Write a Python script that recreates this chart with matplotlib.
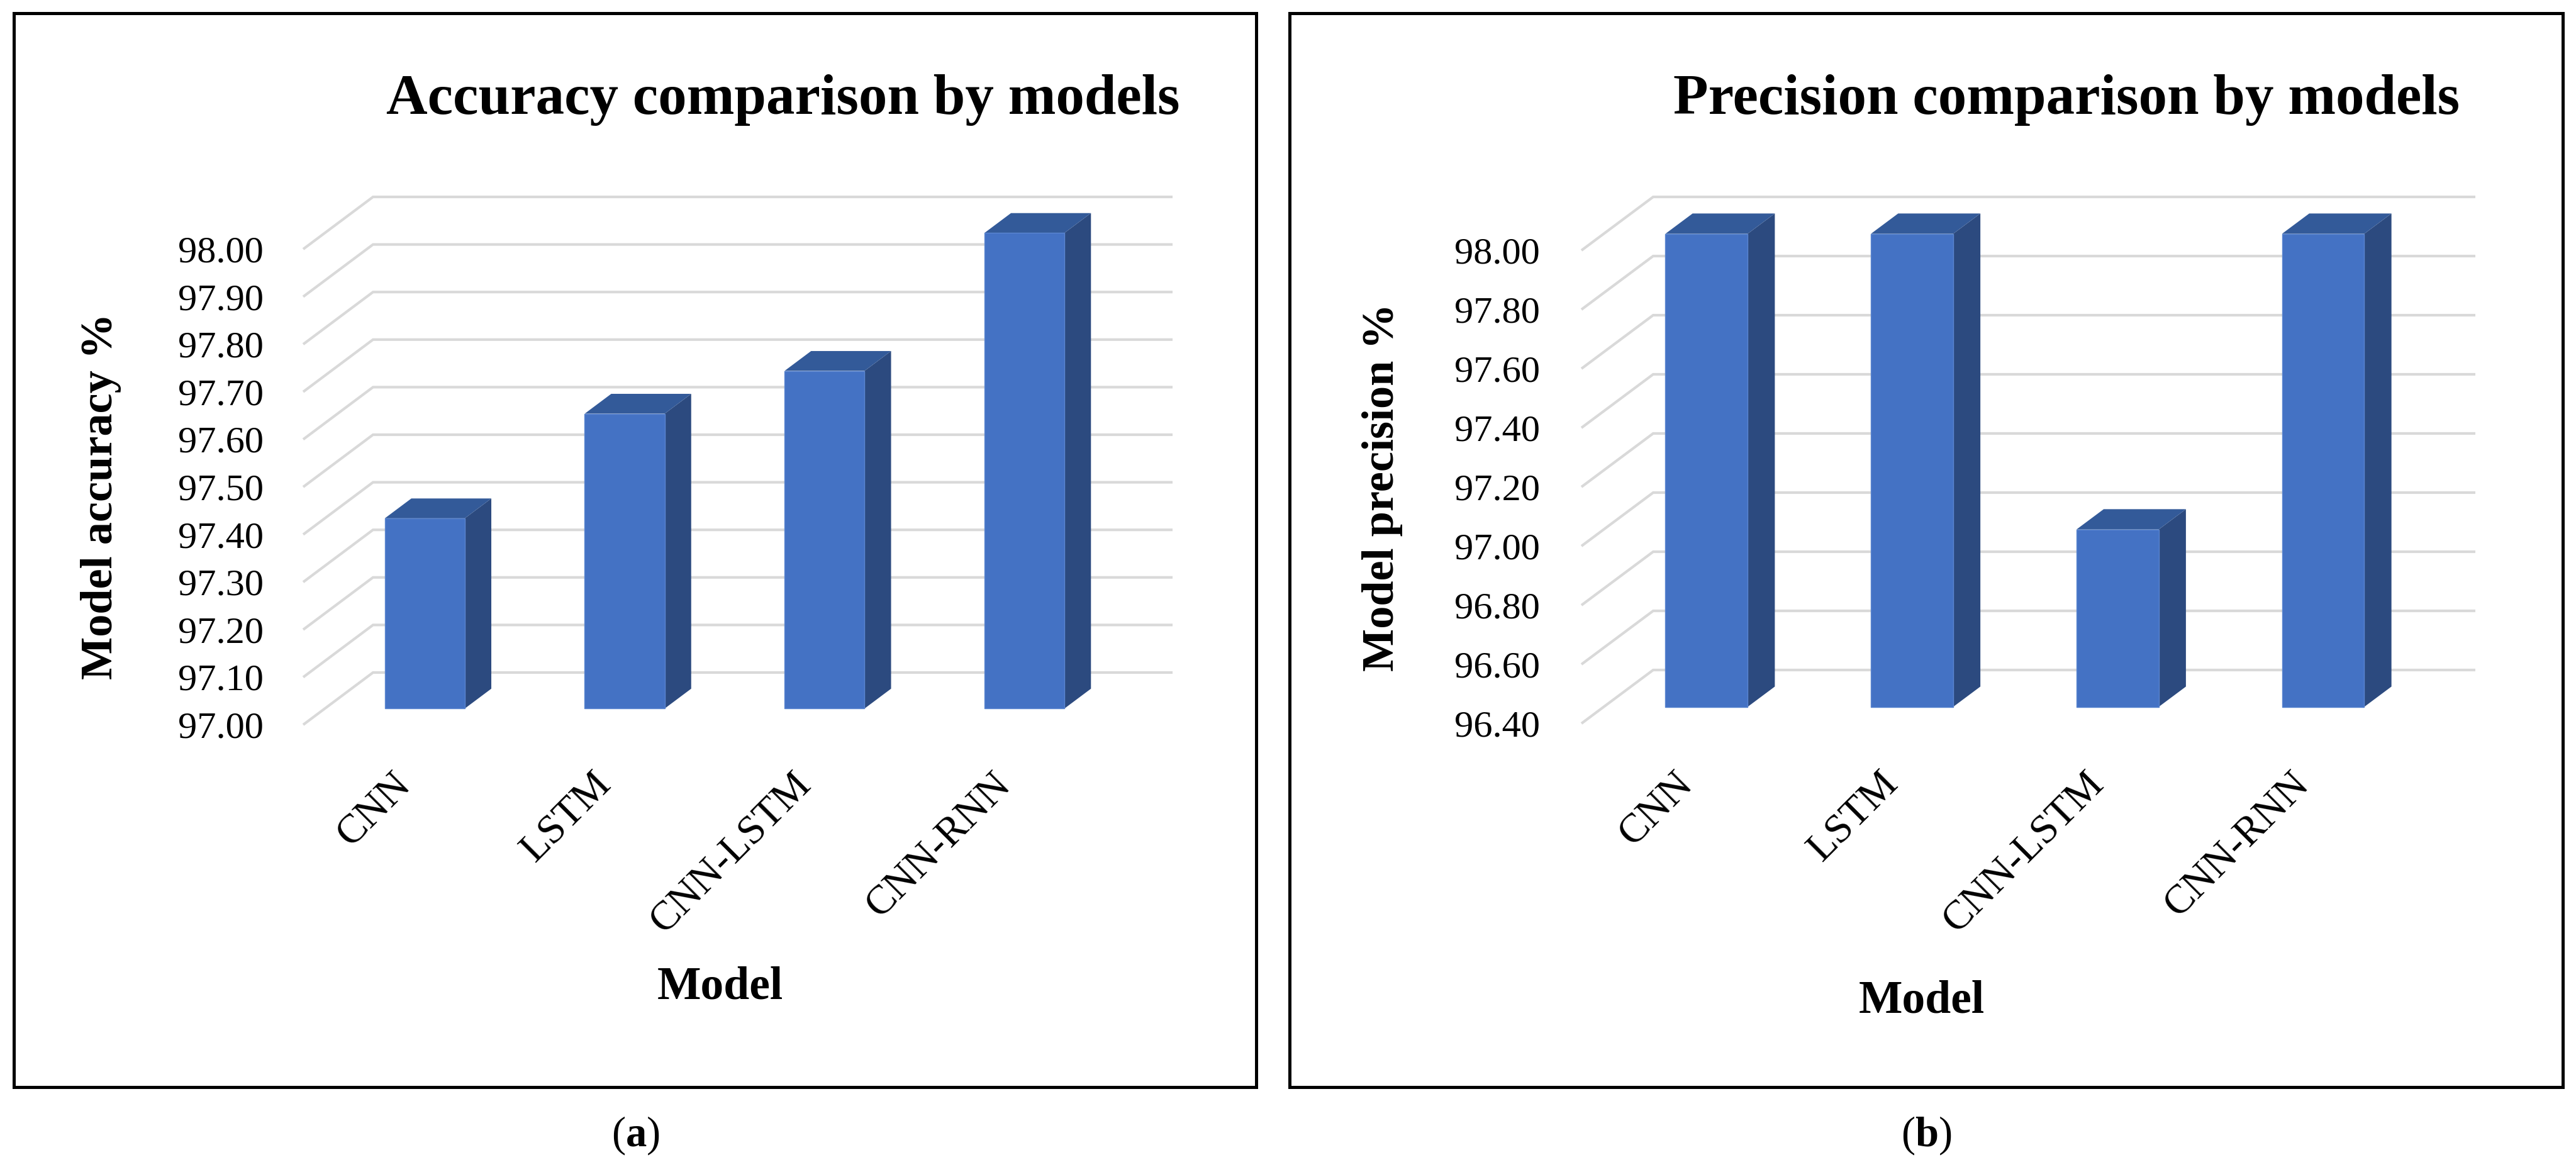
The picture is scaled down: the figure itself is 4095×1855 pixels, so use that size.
import matplotlib
matplotlib.use("Agg")
import matplotlib.pyplot as plt
from matplotlib.patches import Polygon, Rectangle
import numpy as np

plt.rcParams['font.family'] = ['Liberation Serif', 'DejaVu Serif']
plt.rcParams['mathtext.fontset'] = 'custom'
plt.rcParams['mathtext.rm'] = 'Liberation Serif'
plt.rcParams['mathtext.bf'] = 'Liberation Serif:bold'

# ---------------- data ----------------
models = ["CNN", "LSTM", "CNN-LSTM", "CNN-RNN"]
accuracy = [97.40, 97.62, 97.71, 98.00]
precision = [98.00, 98.00, 97.00, 98.00]
acc_ticks = [97.00, 97.10, 97.20, 97.30, 97.40, 97.50, 97.60, 97.70, 97.80, 97.90, 98.00]
prec_ticks = [96.40, 96.60, 96.80, 97.00, 97.20, 97.40, 97.60, 97.80, 98.00]

W, H = 4095, 1855
fig = plt.figure(figsize=(W / 100, H / 100), dpi=100)

FRONT = '#4472C4'
SIDE = '#2C4A7F'
TOP = '#335A99'
GRID = '#D9D9D9'
PT = 0.72  # points per pixel at dpi 100


def fx(x):
    return x / W


def fy(y):
    return 1 - y / H


def panel(vals, ticks, x0, x1, ytop, ybot, dxp, dyp, title, title_x, ylabel,
          ylab_xy, xlab_xy, pad_y, pad_x, tick_dx, sub, sub_xy):
    vmin, vmax = ticks[0], ticks[-1]
    ax = fig.add_axes([fx(x0), fy(ybot), (x1 - x0) / W, (ybot - ytop) / H])
    ax.set_xlim(-0.5, len(vals) - 0.5)
    ax.set_ylim(vmin, vmax)
    ax.patch.set_visible(False)
    for s in ax.spines.values():
        s.set_visible(False)
    px_cat = (x1 - x0) / len(vals)
    px_unit = (ybot - ytop) / (vmax - vmin)
    DX = dxp / px_cat
    DY = dyp / px_unit
    n = len(vals)
    # gridlines (floor diagonal + back wall)
    for t in ticks:
        ax.plot([-0.5, -0.5 + DX, n - 0.5 + DX], [t, t + DY, t + DY],
                color=GRID, lw=3.0, zorder=1, clip_on=False,
                solid_capstyle='butt', solid_joinstyle='miter')
    d0, d1 = 0.31, 0.69
    hw = 0.2
    x = np.arange(n)
    v = np.array(vals)
    ax.bar(x + d0 * DX, v - vmin, bottom=vmin + d0 * DY, width=2 * hw,
           color=FRONT, edgecolor='#5B86D0', linewidth=1.0, zorder=4, clip_on=False)
    for xi, vi in zip(x, v):
        side = [(xi + hw + d0 * DX, vmin + d0 * DY), (xi + hw + d1 * DX, vmin + d1 * DY),
                (xi + hw + d1 * DX, vi + d1 * DY), (xi + hw + d0 * DX, vi + d0 * DY)]
        top = [(xi - hw + d0 * DX, vi + d0 * DY), (xi + hw + d0 * DX, vi + d0 * DY),
               (xi + hw + d1 * DX, vi + d1 * DY), (xi - hw + d1 * DX, vi + d1 * DY)]
        ax.add_patch(Polygon(side, closed=True, facecolor=SIDE, edgecolor='none',
                             zorder=3, clip_on=False))
        ax.add_patch(Polygon(top, closed=True, facecolor=TOP, edgecolor='none',
                             zorder=3, clip_on=False))
    ax.set_yticks(ticks)
    ax.set_yticklabels([f"{t:.2f}" for t in ticks], fontsize=43.5)
    ax.tick_params(axis='y', length=0, pad=pad_y * PT)
    ax.set_xticks(x + tick_dx / px_cat)
    ax.set_xticklabels(models, fontsize=47, rotation=45, ha='right',
                       va='baseline', rotation_mode='anchor')
    ax.tick_params(axis='x', length=0, pad=pad_x * PT)
    fig.text(fx(title_x), fy(181), title, fontsize=65.5, fontweight='bold',
             ha='left', va='baseline')
    fig.text(fx(ylab_xy[0]), fy(ylab_xy[1]), ylabel, fontsize=52, fontweight='bold',
             rotation=90, ha='center', va='center')
    fig.text(fx(xlab_xy[0]), fy(xlab_xy[1]), "Model", fontsize=53, fontweight='bold',
             ha='center', va='baseline')
    fig.text(fx(sub_xy[0]), fy(sub_xy[1]), "(" + r"$\mathbf{" + sub + "}$" + ")",
             fontsize=48, ha='center', va='center')


panel(accuracy, acc_ticks, 482, 1753, 396, 1152, 111, 83,
      "Accuracy comparison by models", 614, "Model accuracy %",
      (161, 789), (1145, 1588), 63, 97, 14, "a", (1010, 1805))
panel(precision, prec_ticks, 2514, 3821, 398, 1150, 114, 85,
      "Precision comparison by models", 2660, "Model precision %",
      (2198, 775), (3055, 1609), 66, 98, 15, "b", (3062, 1805))

# frames
for (xa, xb) in [(22, 1997), (2050, 4074)]:
    fig.add_artist(Rectangle((fx(xa), fy(1728)), (xb - xa) / W, (1728 - 21) / H,
                             transform=fig.transFigure, fill=False,
                             edgecolor='black', linewidth=3.6))

fig.savefig("out.png", dpi=100, facecolor='white')
